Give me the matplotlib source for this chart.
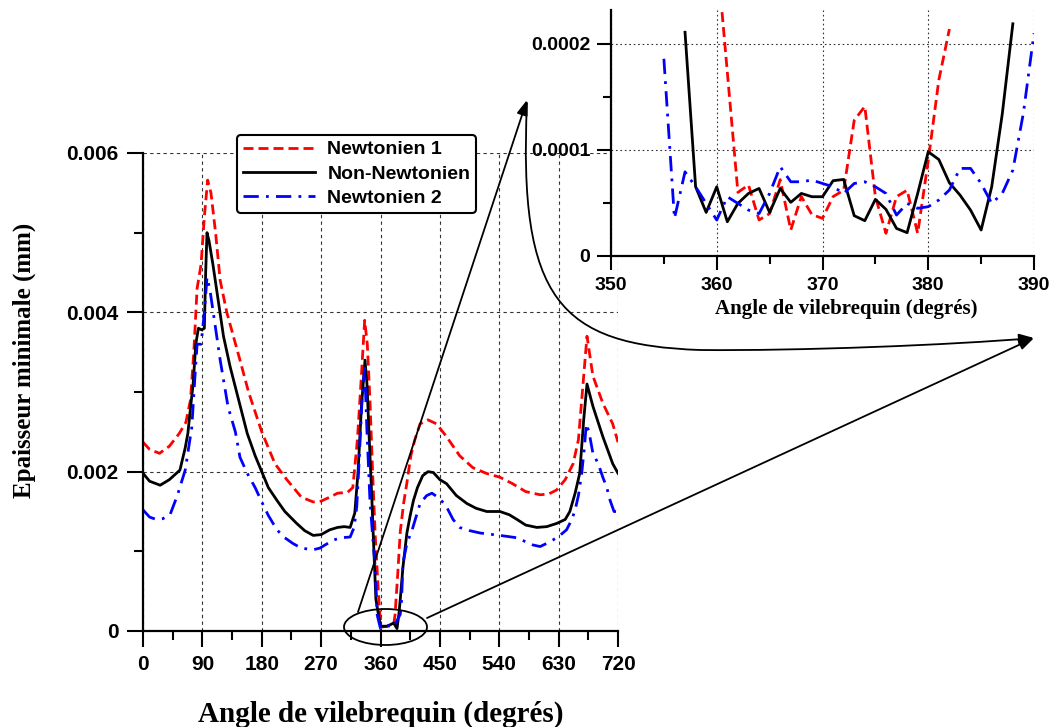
import matplotlib
matplotlib.use("Agg")
import matplotlib.pyplot as plt
from matplotlib.patches import Ellipse, FancyArrowPatch
from matplotlib.path import Path
from matplotlib.transforms import Affine2D
from matplotlib.ticker import MultipleLocator
import numpy as np

# ---- main chart data (crank angle in degrees, film thickness in mm) ----
ang_n1 = [0, 10, 25, 40, 55, 65, 72, 77, 82, 88, 93, 98, 103, 110, 117, 127, 137,
          147, 160, 180, 200, 218, 240, 258, 270, 283, 295, 310, 318, 325, 331, 336,
          340, 344, 348, 352, 356, 359, 362, 370, 380, 382, 386, 390, 395, 400, 406,
          412, 420, 432, 445, 460, 480, 500, 520, 541, 560, 580, 602, 615, 627, 640,
          652, 660, 666, 670, 673, 682, 697, 712, 720]
h_n1 = [0.00237, 0.00228, 0.00223, 0.00232, 0.00248, 0.00262, 0.0029, 0.0035, 0.0043,
        0.0046, 0.0052, 0.00566, 0.0055, 0.0050, 0.0044, 0.0040, 0.0037, 0.0034, 0.0030,
        0.0025, 0.0021, 0.0019, 0.00168, 0.00162, 0.00163, 0.00168, 0.00173, 0.00174,
        0.0018, 0.0024, 0.0032, 0.0039, 0.0036, 0.0029, 0.0020, 0.0012, 0.0006, 0.0002,
        0.00005, 0.00006, 0.00008, 0.0002, 0.0007, 0.00125, 0.0016, 0.00186, 0.0022,
        0.0024, 0.0026, 0.00265, 0.0026, 0.00244, 0.0022, 0.00205, 0.00198, 0.00193,
        0.00185, 0.00175, 0.00171, 0.00172, 0.00177, 0.0019, 0.0021, 0.0024, 0.0030,
        0.0034, 0.0037, 0.0032, 0.00286, 0.0026, 0.00237]

ang_nn = [0, 10, 26, 40, 56, 64, 68, 72, 76, 80, 84, 89, 93, 95, 97, 100, 106, 114,
          122, 132, 145, 158, 170, 180, 190, 203, 215, 233, 245, 258, 270, 283, 295,
          305, 314, 321, 326, 331, 336.5, 339.5, 343, 347, 350, 353, 357, 360, 370,
          380, 385, 388, 390, 394, 400, 405, 410, 416, 424, 432, 440, 450, 460, 475,
          491, 505, 521, 541, 555, 567, 580, 597, 612, 627, 640, 647, 655, 662, 668,
          673, 682, 697, 712, 720]
h_nn = [0.00198, 0.00188, 0.00183, 0.0019, 0.00202, 0.0023, 0.00248, 0.0028, 0.0031,
        0.0036, 0.0038, 0.00378, 0.0038, 0.0045, 0.0050, 0.0049, 0.0046, 0.00415,
        0.0037, 0.00332, 0.0029, 0.00248, 0.0022, 0.0020, 0.0018, 0.00164, 0.0015,
        0.00135, 0.00126, 0.0012, 0.00121, 0.00127, 0.0013, 0.00131, 0.0013, 0.00148,
        0.0020, 0.0028, 0.0034, 0.0031, 0.0024, 0.00164, 0.0010, 0.0004, 0.0002,
        0.00006, 0.00006, 0.0001, 0.00003, 0.00022, 0.0004, 0.0008, 0.00123, 0.00145,
        0.00164, 0.0018, 0.00195, 0.0020, 0.00199, 0.0019, 0.00185, 0.0017, 0.0016,
        0.00154, 0.0015, 0.0015, 0.00146, 0.0014, 0.00133, 0.0013, 0.00131, 0.00135,
        0.0014, 0.0015, 0.00173, 0.00198, 0.00265, 0.0031, 0.00282, 0.00244, 0.0021,
        0.00198]

ang_n2 = [0, 10, 20, 30, 41, 52, 64, 74, 78, 82, 88, 93, 97, 101.5, 110, 117, 129,
          140, 147, 158, 170, 180, 190, 203, 215, 227, 240, 258, 268, 280, 288, 300,
          314, 320, 324, 328, 332, 336, 339.5, 344, 348, 352, 355, 360, 370, 380, 390,
          392, 394, 400, 408, 420, 430, 438, 450, 460, 470, 480, 495, 511, 541, 567,
          580, 591, 602, 612, 621, 632, 642, 650, 655, 660, 665, 669, 672, 676, 682,
          690, 697, 703, 708, 714, 720]
h_n2 = [0.00152, 0.00143, 0.0014, 0.00141, 0.00146, 0.0017, 0.00202, 0.00256, 0.0031,
        0.0036, 0.0036, 0.0040, 0.00444, 0.00428, 0.0038, 0.0034, 0.00281, 0.0025,
        0.00218, 0.00198, 0.0018, 0.00162, 0.00145, 0.00127, 0.00117, 0.0011, 0.00104,
        0.00102, 0.00104, 0.0011, 0.00114, 0.00117, 0.00118, 0.0013, 0.00156, 0.0022,
        0.0029, 0.0033, 0.0025, 0.00164, 0.0012, 0.0008, 0.0002, 0.00003, 0.00007,
        0.00005, 0.00021, 0.0004, 0.00085, 0.0011, 0.00127, 0.0016, 0.0017, 0.00173,
        0.00166, 0.00156, 0.0014, 0.0013, 0.00126, 0.00123, 0.0012, 0.00117, 0.00112,
        0.00108, 0.00106, 0.0011, 0.00114, 0.0012, 0.00127, 0.0014, 0.00152, 0.0017,
        0.00198, 0.0023, 0.0026, 0.0025, 0.00223, 0.0021, 0.00193, 0.0018, 0.00164,
        0.0015, 0.0015]

# ---- zoomed data around TDC (350-390 deg) ----
zang_n1 = [360.5, 362, 363, 364, 365, 366, 367, 368, 369, 370, 371, 372, 373, 374,
           375, 376, 377, 378, 379, 380, 381, 382]
zh_n1 = [0.00023, 0.00006, 0.000067, 0.000034, 0.00004, 0.000072, 0.0000245, 0.000056,
         0.000039, 0.0000355, 0.000056, 0.000062, 0.000128, 0.000141, 0.000056,
         0.0000214, 0.000056, 0.000062, 0.0000214, 0.00009, 0.000166, 0.000214]

zang_nn = list(range(357, 389))
zh_nn = [0.000211, 0.0000653, 0.0000411, 0.0000653, 0.0000323, 0.0000496, 0.000059,
         0.0000637, 0.0000411, 0.0000637, 0.0000506, 0.000059, 0.0000559, 0.0000559,
         0.000071, 0.0000722, 0.000038, 0.0000333, 0.0000534, 0.000044, 0.000026,
         0.000022, 0.000059, 0.0000983, 0.000091, 0.000069, 0.0000575, 0.0000433,
         0.0000245, 0.0000653, 0.000134, 0.000219]

zang_n2 = list(range(355, 391))
zh_n2 = [0.000186, 0.0000355, 0.0000794, 0.0000653, 0.0000496, 0.0000339, 0.0000559,
         0.0000496, 0.0000433, 0.00004, 0.000059, 0.0000842, 0.00007, 0.00007,
         0.0000716, 0.0000684, 0.0000653, 0.000059, 0.0000684, 0.00007, 0.0000653,
         0.000059, 0.0000386, 0.0000496, 0.000045, 0.0000465, 0.0000528, 0.0000622,
         0.0000826, 0.0000826, 0.0000684, 0.0000496, 0.000059, 0.000081, 0.000135,
         0.00021]

labels = ["Newtonien 1", "Non-Newtonien", "Newtonien 2"]
xticks_main = [0, 90, 180, 270, 360, 450, 540, 630, 720]
yticks_main = [0, 0.002, 0.004, 0.006]
ytick_main_labels = ["0", "0.002", "0.004", "0.006"]
xticks_zoom = [350, 360, 370, 380, 390]
yticks_zoom = [0, 0.0001, 0.0002]
ytick_zoom_labels = ["0", "0.0001", "0.0002"]
xlabel = "Angle de vilebrequin (degrés)"
ylabel = "Epaisseur minimale (mm)"

W, H = 1056, 727
sans = "Liberation Sans"
serif = "Liberation Serif"

fig = plt.figure(figsize=(W / 100, H / 100), dpi=100)
fig.patch.set_facecolor("white")

def style_axis(ax, lw_spine=1.6):
    for s in ["top", "right"]:
        ax.spines[s].set_visible(False)
    for s in ["left", "bottom"]:
        ax.spines[s].set_linewidth(lw_spine)
    for lab in ax.get_xticklabels() + ax.get_yticklabels():
        lab.set_fontfamily(sans)
        lab.set_fontweight("bold")

red_dash = (0, (3.6, 1.8))
blue_dd = (0, (5.5, 2.6, 1.0, 2.6))

# ---- main axes ----
ax = fig.add_axes([143 / W, 1 - 631 / H, 475 / W, 478 / H])
ax.plot(ang_n1, h_n1, color="#ff0000", lw=2.0, linestyle=red_dash, label=labels[0])
ax.plot(ang_nn, h_nn, color="black", lw=2.0, label=labels[1])
ax.plot(ang_n2, h_n2, color="#0000ff", lw=2.0, linestyle=blue_dd, label=labels[2])
ax.set_xlim(0, 720)
ax.set_ylim(0, 0.006)
ax.set_xticks(xticks_main)
ax.set_xticklabels([str(v) for v in xticks_main], fontsize=15)
ax.set_yticks(yticks_main)
ax.set_yticklabels(ytick_main_labels, fontsize=15)
ax.xaxis.set_minor_locator(MultipleLocator(45))
ax.yaxis.set_minor_locator(MultipleLocator(0.001))
ax.tick_params(which="major", direction="out", length=11.5, width=1.5, pad=6)
ax.tick_params(which="minor", direction="out", length=6.5, width=1.5)
ax.grid(True, which="major", color="#333333", linestyle=(0, (3, 3)), lw=0.8)
style_axis(ax)
ax.set_xlabel(xlabel, fontfamily=serif, fontweight="bold", fontsize=21)
ax.xaxis.set_label_coords(0.5, -0.146)
ax.set_ylabel(ylabel, fontfamily=serif, fontweight="bold", fontsize=18)
ax.yaxis.set_label_coords(-0.225, 0.567)

leg = ax.legend(loc="upper left", bbox_to_anchor=(237 / W, 1 - 135 / H),
                bbox_transform=fig.transFigure, borderaxespad=0, fancybox=True,
                prop={"family": sans, "weight": "bold", "size": 14},
                handlelength=3.7, handletextpad=0.65, labelspacing=0.35,
                borderpad=0.3, framealpha=1)
leg.get_frame().set_edgecolor("black")
leg.get_frame().set_linewidth(1.5)

# ---- inset axes ----
ax2 = fig.add_axes([611 / W, 1 - 256 / H, 423 / W, 246 / H])
ax2.plot(zang_n1, zh_n1, color="#ff0000", lw=2.0, linestyle=red_dash)
ax2.plot(zang_nn, zh_nn, color="black", lw=2.0)
ax2.plot(zang_n2, zh_n2, color="#0000ff", lw=2.0, linestyle=blue_dd)
ax2.set_xlim(350, 390)
ax2.set_ylim(0, 0.000232)
ax2.set_xticks(xticks_zoom)
ax2.set_xticklabels([str(v) for v in xticks_zoom], fontsize=14)
ax2.set_yticks(yticks_zoom)
ax2.set_yticklabels(ytick_zoom_labels, fontsize=14)
ax2.xaxis.set_minor_locator(MultipleLocator(5))
ax2.yaxis.set_minor_locator(MultipleLocator(0.00005))
ax2.tick_params(which="major", direction="out", length=10, width=1.5, pad=5)
ax2.tick_params(which="minor", direction="out", length=6, width=1.5)
ax2.grid(True, which="major", color="#333333", linestyle=(0, (1.5, 2.5)), lw=0.8)
style_axis(ax2)
ax2.set_xlabel(xlabel, fontfamily=serif, fontweight="bold", fontsize=15)
ax2.xaxis.set_label_coords(0.556, -0.175)

# ---- zoom annotation (figure pixel coordinates) ----
px = Affine2D().scale(1 / W, -1 / H).translate(0, 1) + fig.transFigure
fig.patches.append(Ellipse((385.5, 627), 83, 36, transform=px, fill=False,
                           lw=1.3, color="black"))
head = "-|>,head_length=0.6,head_width=0.22"
fig.patches.append(FancyArrowPatch((358, 612), (527, 100), transform=px,
                                   arrowstyle=head, mutation_scale=15, lw=1.3,
                                   color="black", shrinkA=0, shrinkB=0))
fig.patches.append(FancyArrowPatch((427, 618), (1034, 338), transform=px,
                                   arrowstyle=head, mutation_scale=15, lw=1.3,
                                   color="black", shrinkA=0, shrinkB=0))
curve = Path([(527, 103), (518, 300), (560, 345), (700, 350),
              (800, 351), (950, 345), (1034, 338)],
             [Path.MOVETO, Path.CURVE4, Path.CURVE4, Path.CURVE4,
              Path.CURVE4, Path.CURVE4, Path.CURVE4])
fig.patches.append(FancyArrowPatch(path=curve, transform=px, arrowstyle=head,
                                   mutation_scale=15, lw=1.3, color="black"))

fig.savefig("out.png", dpi=100, facecolor="white")
